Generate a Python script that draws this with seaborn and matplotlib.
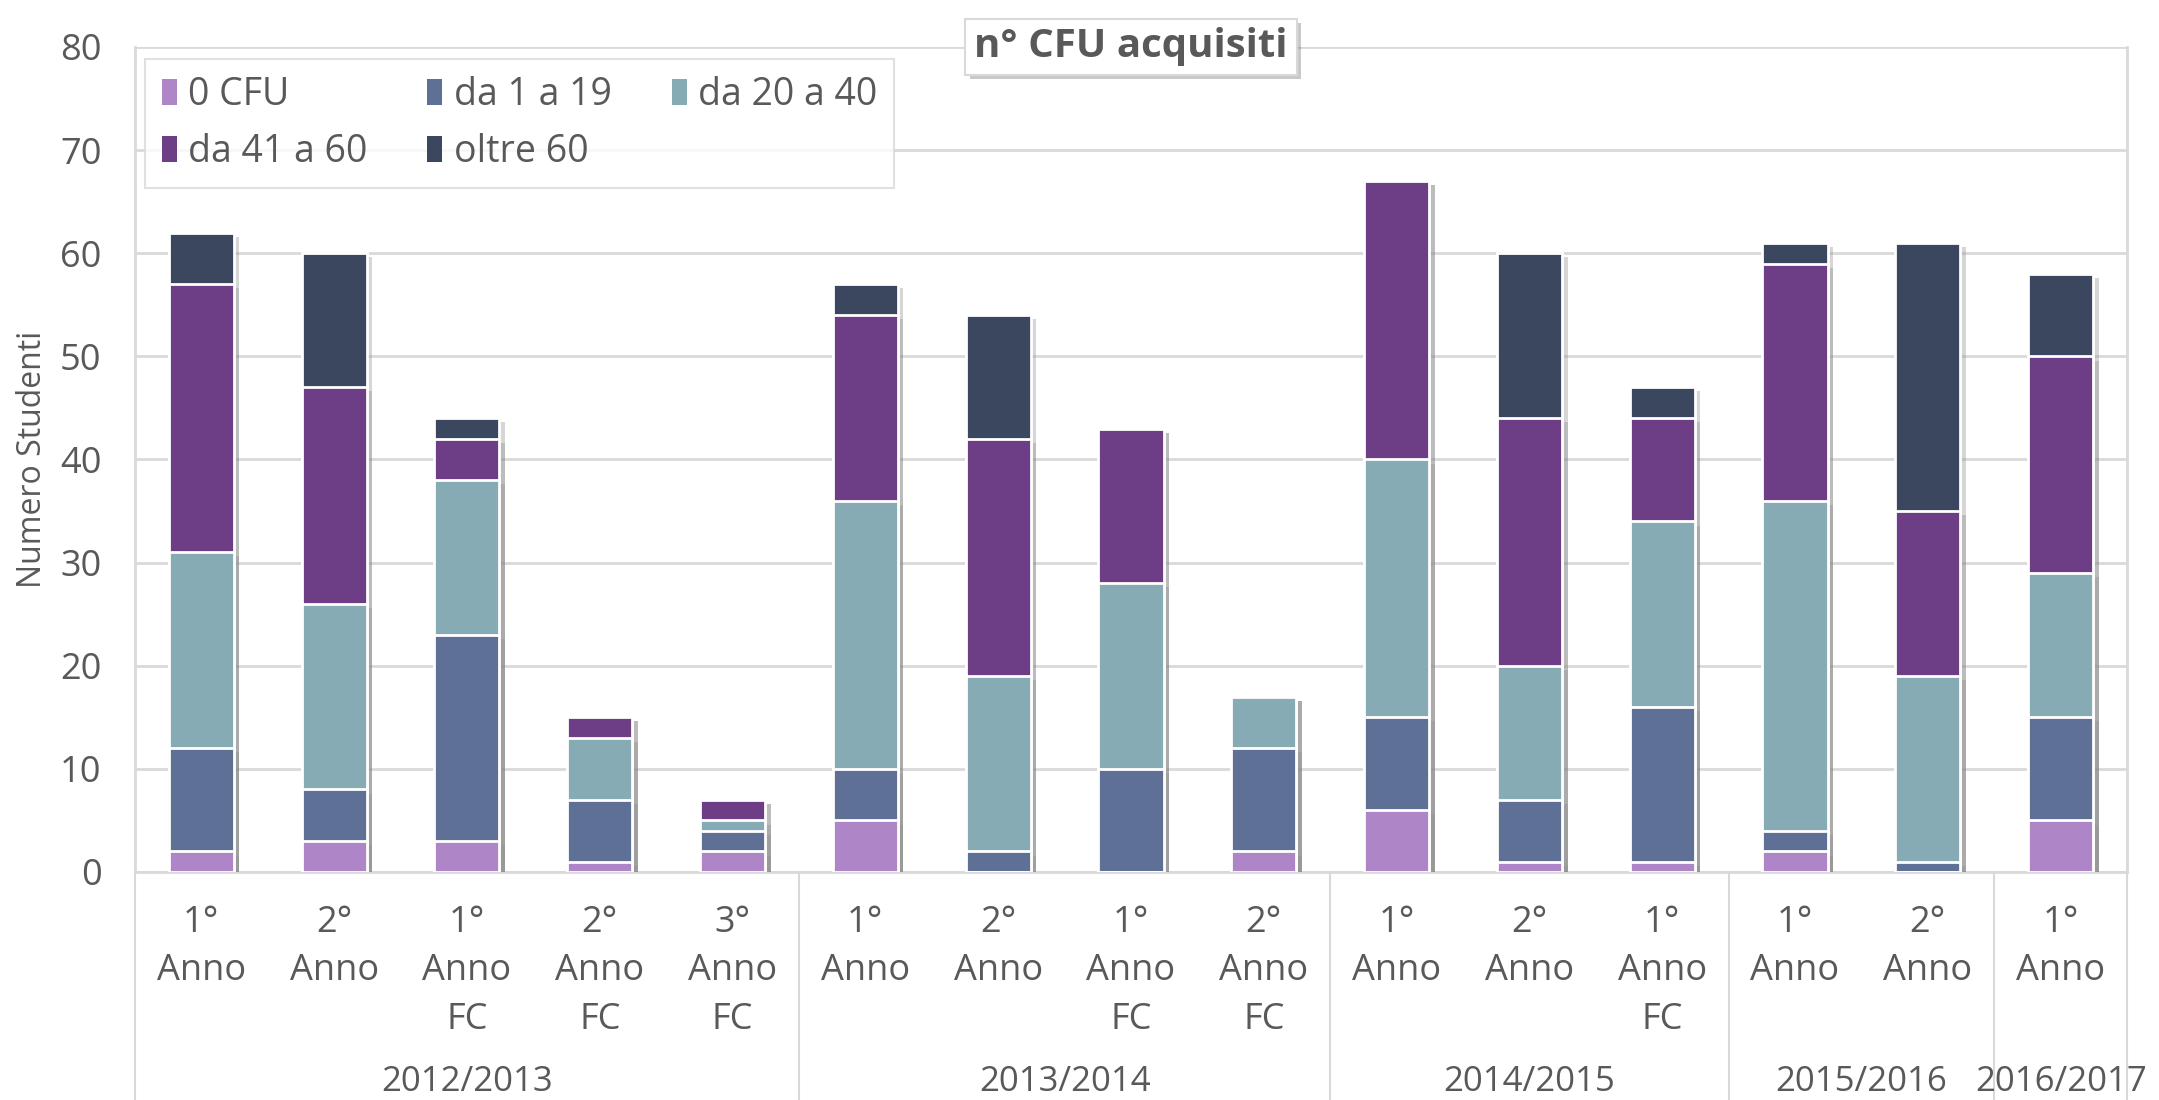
import numpy as np
import pandas as pd
import matplotlib.pyplot as plt
import matplotlib.patheffects as pe
from matplotlib.patches import Patch
from matplotlib.transforms import blended_transform_factory
import seaborn as sns

# dati
anni = ["2012/2013"] * 5 + ["2013/2014"] * 4 + ["2014/2015"] * 3 + ["2015/2016"] * 2 + ["2016/2017"]
corsi = ["1° Anno", "2° Anno", "1° Anno FC", "2° Anno FC", "3° Anno FC",
         "1° Anno", "2° Anno", "1° Anno FC", "2° Anno FC",
         "1° Anno", "2° Anno", "1° Anno FC",
         "1° Anno", "2° Anno",
         "1° Anno"]
cfu_0 = [2, 3, 3, 1, 2, 5, 0, 0, 2, 6, 1, 1, 2, 0, 5]
cfu_1_19 = [10, 5, 20, 6, 2, 5, 2, 10, 10, 9, 6, 15, 2, 1, 10]
cfu_20_40 = [19, 18, 15, 6, 1, 26, 17, 18, 5, 25, 13, 18, 32, 18, 14]
cfu_41_60 = [26, 21, 4, 2, 2, 18, 23, 15, 0, 27, 24, 10, 23, 16, 21]
cfu_oltre_60 = [5, 13, 2, 0, 0, 3, 12, 0, 0, 0, 16, 3, 2, 26, 8]

fasce = ["0 CFU", "da 1 a 19", "da 20 a 40", "da 41 a 60", "oltre 60"]
colori = ["#AE85C6", "#5E7096", "#86ABB5", "#6D3E86", "#3A475E"]

df = pd.DataFrame({"anno": anni, "corso": corsi, "0 CFU": cfu_0, "da 1 a 19": cfu_1_19,
                   "da 20 a 40": cfu_20_40, "da 41 a 60": cfu_41_60, "oltre 60": cfu_oltre_60})
df["id"] = [f"{a} {c}" for a, c in zip(df["anno"], df["corso"])]
cumulato = df[fasce].cumsum(axis=1)

sns.set_theme(style="white")
plt.rcParams["font.family"] = ["Open Sans", "DejaVu Sans"]
grigio = "#595959"

fig = plt.figure(figsize=(21.59, 11), dpi=100)
ax = fig.add_axes([0.0625, 0.2073, 0.9227, 0.750])

ombra = [pe.SimplePatchShadow(offset=(4, -3), shadow_rgbFace="#8c8c8c", alpha=0.35), pe.Normal()]

# barre impilate: dalla somma totale verso il basso
for fascia, col in reversed(list(zip(fasce, colori))):
    sns.barplot(x=df["id"], y=cumulato[fascia], color=col, width=0.49,
                edgecolor="white", linewidth=2, saturation=1, ax=ax, zorder=3)

for p in ax.patches:
    p.set_path_effects(ombra)

ax.set_ylim(0, 80)
ax.set_xlim(-0.5, len(df) - 0.5)
ax.set_yticks(range(0, 81, 10))
ax.yaxis.grid(True, color="#D9D9D9", linewidth=2, zorder=0)
ax.set_axisbelow(True)
ax.tick_params(axis="y", labelsize=26, labelcolor=grigio, length=0, pad=24)
ax.set_ylabel("Numero Studenti", fontsize=23, color=grigio, labelpad=8)
ax.set_xlabel("")

ax.set_xticks(range(len(df)))
ax.set_xticklabels([c.replace(" ", "\n") for c in df["corso"]], fontsize=26, color=grigio,
                   linespacing=1.45, va="top")
ax.tick_params(axis="x", length=0, pad=24)

ax.spines["top"].set_visible(False)
for s in ["left", "right", "bottom"]:
    ax.spines[s].set_color("#D9D9D9")
    ax.spines[s].set_linewidth(2)

# separatori e etichette degli anni accademici
trans = blended_transform_factory(ax.transData, ax.transAxes)
gruppi = df.reset_index().groupby("anno", sort=False)["index"]
confini = [-0.5] + [g.max() + 0.5 for _, g in gruppi]
for xb in confini:
    ax.plot([xb, xb], [0, -0.28], color="#D9D9D9", linewidth=1.5, transform=trans, clip_on=False)
for anno, g in gruppi:
    ax.text(g.mean(), -0.255, anno, transform=trans, ha="center", va="center",
            fontsize=25, color=grigio)

handles = [Patch(facecolor=c, edgecolor="none") for c in colori]
ordine = [0, 3, 1, 4, 2]
leg = ax.legend([handles[i] for i in ordine], [fasce[i] for i in ordine], ncol=3,
                loc="upper left", bbox_to_anchor=(0.005, 0.985), borderaxespad=0, fontsize=27,
                frameon=True, fancybox=False, edgecolor="#D9D9D9", handlelength=0.4,
                handleheight=0.7, handletextpad=0.3, columnspacing=1.6, labelspacing=0.5,
                borderpad=0.45)
leg.get_frame().set_linewidth(1.5)
for t in leg.get_texts():
    t.set_color(grigio)

ax.text(0.5, 1.0, "n° CFU acquisiti", transform=ax.transAxes, ha="center", va="center",
        fontsize=29, fontweight="bold", color=grigio, zorder=10,
        bbox=dict(boxstyle="square,pad=0.22", facecolor="white", edgecolor="#D9D9D9", linewidth=1.5,
                  path_effects=[pe.SimplePatchShadow(offset=(3, -3), alpha=0.3), pe.Normal()]))

fig.savefig("out.png", dpi=100)
